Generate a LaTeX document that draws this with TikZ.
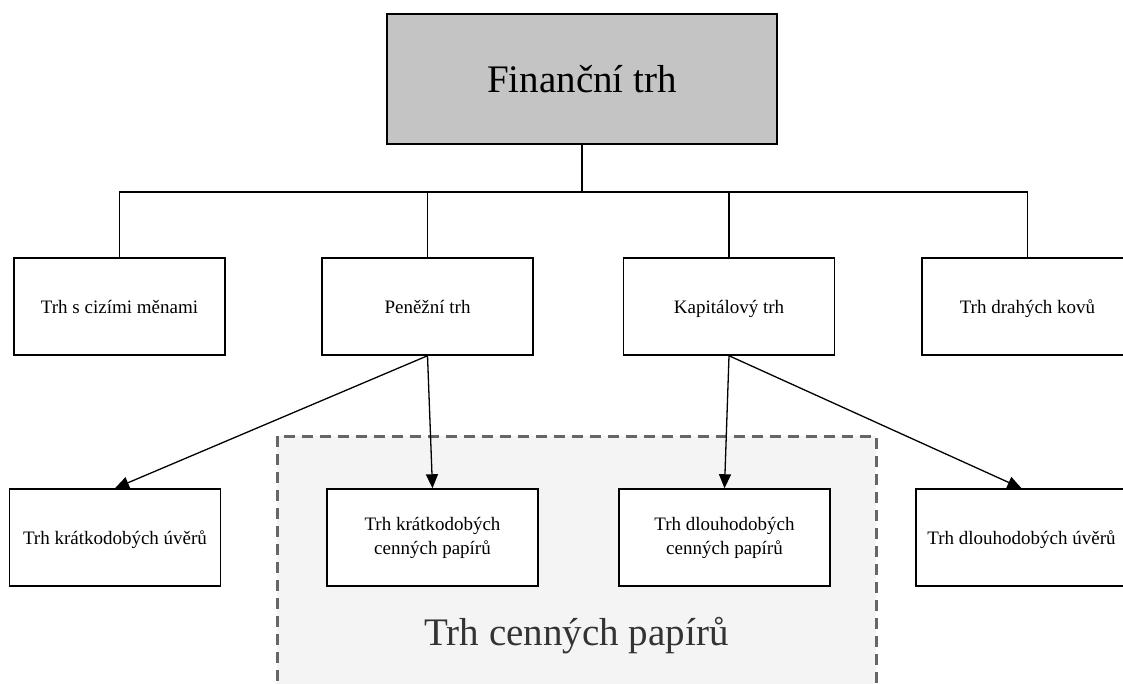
\documentclass[tikz,border=0pt]{standalone}
\usepackage{fontspec}
\setmainfont{Liberation Serif}
\usetikzlibrary{arrows.meta}
\definecolor{topgray}{HTML}{C4C4C4}
\definecolor{groupfill}{HTML}{F4F4F4}
\definecolor{groupline}{HTML}{666666}
\definecolor{grouptext}{HTML}{333333}
\begin{document}
\begin{tikzpicture}[x=1pt,y=-1pt,
  box/.style={draw=black, line width=1.5pt, fill=white, minimum width=211pt, minimum height=97pt, inner sep=0pt, align=center, font=\fontsize{19}{24}\selectfont},
  onebox/.style={box, text height=13.5pt, text depth=0pt},
  topbox/.style={draw=black, line width=1.5pt, fill=topgray, minimum width=390pt, minimum height=130pt, inner sep=0pt, font=\fontsize{39}{44}\selectfont},
  treeline/.style={draw=black, line width=1.2pt},
  arr/.style={draw=black, line width=1.3pt, -{Triangle[length=14pt,width=12pt]}},
  groupbox/.style={draw=groupline, fill=groupfill, line width=3pt, dash pattern=on 11pt off 7pt}
]
\useasboundingbox (0,0) rectangle (1123,684);
\clip (0,0) rectangle (1123,684);

% group of securities markets
\path[groupbox] (277,436) rectangle (876,710);
\node[font=\fontsize{39}{44}\selectfont, text=grouptext, anchor=base] (grp) at (576.5,645) {Trh cenných papírů};

% top node
\node[topbox] (top) at (582,79) {Finanční trh};

% second row
\node[onebox] (cizi) at (119.5,306.5) {Trh s cizími měnami};
\node[onebox] (pen) at (427.5,306.5) {Peněžní trh};
\node[onebox] (kap) at (729,306.5) {Kapitálový trh};
\node[onebox] (kov) at (1027.5,306.5) {Trh drahých kovů};

% third row
\node[onebox] (kuv) at (115,537.5) {Trh krátkodobých úvěrů};
\node[box] (kcp) at (432.5,537.5) {Trh krátkodobých\\cenných papírů};
\node[box] (dcp) at (724.5,537.5) {Trh dlouhodobých\\cenných papírů};
\node[onebox] (duv) at (1021.5,537.5) {Trh dlouhodobých úvěrů};

% tree connectors
\coordinate (bus) at (582,192);
\draw[treeline] (top.south) -- (bus);
\draw[treeline] (cizi.north) |- (bus) -| (kov.north);
\draw[treeline] (pen.north) -- (pen.north |- bus);
\draw[treeline] (kap.north) -- (kap.north |- bus);

% arrows
\draw[arr] (pen.south) -- (kuv.north);
\draw[arr] (pen.south) -- (kcp.north);
\draw[arr] (kap.south) -- (dcp.north);
\draw[arr] (kap.south) -- (duv.north);
\end{tikzpicture}
\end{document}
